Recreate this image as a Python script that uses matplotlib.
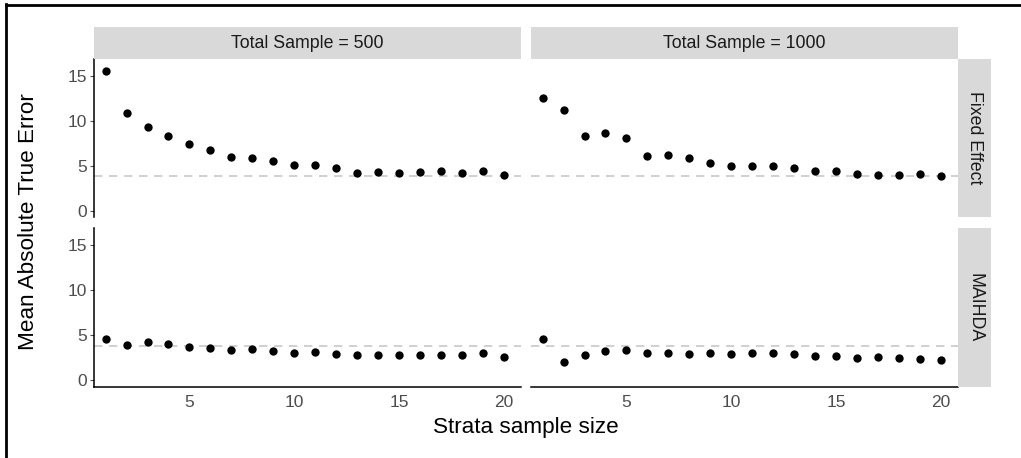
import matplotlib
matplotlib.use("Agg")
import matplotlib.pyplot as plt
from matplotlib.lines import Line2D
from matplotlib.patches import Rectangle

plt.rcParams['font.family'] = ['Liberation Sans', 'DejaVu Sans']

strata_size = list(range(1, 21))
col_labels = ["Total Sample = 500", "Total Sample = 1000"]
row_labels = ["Fixed Effect", "MAIHDA"]

fixed_500 = [15.55, 10.87, 9.29, 8.26, 7.37, 6.71, 5.93, 5.82, 5.46, 5.05,
             5.05, 4.75, 4.20, 4.28, 4.20, 4.28, 4.39, 4.13, 4.39, 3.91]
fixed_1000 = [12.53, 11.13, 8.33, 8.66, 8.11, 6.08, 6.16, 5.79, 5.31, 4.98,
              4.98, 4.98, 4.68, 4.35, 4.35, 4.05, 3.98, 3.98, 4.05, 3.87]
maihda_500 = [4.56, 3.93, 4.22, 4.00, 3.74, 3.59, 3.37, 3.48, 3.26, 3.07,
              3.11, 2.93, 2.78, 2.85, 2.85, 2.85, 2.85, 2.85, 3.07, 2.59]
maihda_1000 = [4.63, 2.04, 2.85, 3.22, 3.41, 3.00, 3.00, 2.93, 3.04, 2.89,
               3.04, 3.04, 2.89, 2.74, 2.67, 2.52, 2.56, 2.48, 2.41, 2.22]
reference_line = 3.82

yticks = [0, 5, 10, 15]
xticks = [5, 10, 15, 20]

data = [[fixed_500, fixed_1000], [maihda_500, maihda_1000]]

W, H = 1021, 458
fig = plt.figure(figsize=(W / 100, H / 100), dpi=100)

def px(x0, y0, x1, y1):
    return [x0 / W, 1 - y1 / H, (x1 - x0) / W, (y1 - y0) / H]

col_x = [(94, 521), (531, 958)]
row_y = [(59, 217), (228, 387)]
strip_color = "#D9D9D9"
tick_color = "#4D4D4D"

for r in range(2):
    for c in range(2):
        x0, x1 = col_x[c]
        y0, y1 = row_y[r]
        ax = fig.add_axes(px(x0, y0, x1, y1))
        ax.axhline(reference_line, color="#C8C8C8", lw=1.2, ls=(0, (5, 4)), zorder=1)
        ax.scatter(strata_size, data[r][c], s=36, color="black", zorder=3, linewidths=0)
        ax.set_xlim(0.45, 20.8)
        ax.set_ylim(-0.72, 16.85)
        for s in ["top", "right"]:
            ax.spines[s].set_visible(False)
        ax.spines["left"].set_visible(c == 0)
        ax.spines["bottom"].set_visible(r == 1)
        ax.spines["left"].set_linewidth(1.1)
        ax.spines["bottom"].set_linewidth(1.1)
        ax.set_yticks(yticks)
        ax.set_xticks(xticks)
        ax.tick_params(axis="y", left=(c == 0), labelleft=(c == 0), length=3,
                       color=tick_color, labelcolor=tick_color, labelsize=12.5, pad=2)
        ax.tick_params(axis="x", bottom=False, labelbottom=(r == 1), length=0,
                       labelcolor=tick_color, labelsize=12.5, pad=6)
        ax.patch.set_alpha(0)

# strips
for c in range(2):
    x0, x1 = col_x[c]
    fig.add_artist(Rectangle((x0 / W, 1 - 59 / H), (x1 - x0) / W, 32 / H,
                             transform=fig.transFigure, color=strip_color, lw=0))
    fig.text((x0 + x1) / 2 / W, 1 - 43 / H, col_labels[c], ha="center", va="center",
             fontsize=12.8, color="#1A1A1A")
for r in range(2):
    y0, y1 = row_y[r]
    fig.add_artist(Rectangle((958 / W, 1 - y1 / H), 33 / W, (y1 - y0) / H,
                             transform=fig.transFigure, color=strip_color, lw=0))
    fig.text(974.5 / W, 1 - (y0 + y1) / 2 / H, row_labels[r], ha="center", va="center",
             rotation=-90, fontsize=12.8, color="#1A1A1A")

fig.text(526 / W, 1 - 427 / H, "Strata sample size", ha="center", va="center",
         fontsize=16.2, color="black")
fig.text(28 / W, 1 - 222 / H, "Mean Absolute True Error", ha="center", va="center",
         rotation=90, fontsize=16.2, color="black")

# outer border (top and left)
fig.add_artist(Line2D([5.8 / W, 5.8 / W], [0, 1 - 3.5 / H], transform=fig.transFigure,
                      color="black", lw=2.0, solid_capstyle="projecting"))
fig.add_artist(Line2D([5.8 / W, 1], [1 - 4.5 / H, 1 - 4.5 / H], transform=fig.transFigure,
                      color="black", lw=2.0, solid_capstyle="projecting"))

fig.savefig("out.png", dpi=100)
